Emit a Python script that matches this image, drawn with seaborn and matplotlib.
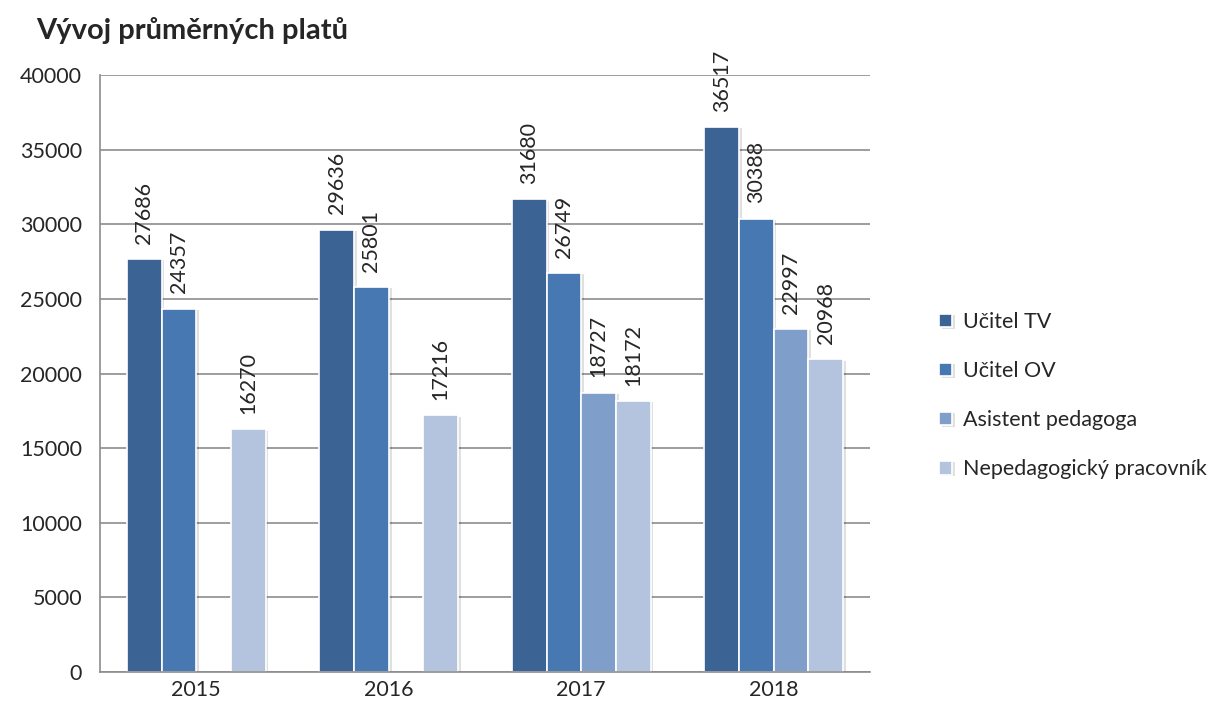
import numpy as np
import pandas as pd
import matplotlib
matplotlib.use("Agg")
import matplotlib.pyplot as plt
import matplotlib.patheffects as pe
import seaborn as sns

# --- Data ---
years = ["2015", "2016", "2017", "2018"]
series = ["Učitel TV", "Učitel OV", "Asistent pedagoga", "Nepedagogický pracovník"]
ucitel_tv = [27686, 29636, 31680, 36517]
ucitel_ov = [24357, 25801, 26749, 30388]
asistent = [np.nan, np.nan, 18727, 22997]
nepedagog = [16270, 17216, 18172, 20968]

colors = ["#3B6494", "#4878B1", "#7F9ECA", "#B4C4DF"]

rows = []
for name, vals in zip(series, [ucitel_tv, ucitel_ov, asistent, nepedagog]):
    for y, v in zip(years, vals):
        rows.append({"Rok": y, "Kategorie": name, "Plat": v})
df = pd.DataFrame(rows).dropna()

sns.set_style("white")
plt.rcParams["font.family"] = ["Lato", "DejaVu Sans"]

fig = plt.figure(figsize=(12.14, 7.15), dpi=100)
ax = fig.add_axes([0.0824, 0.060, 0.6342, 0.835])

sns.barplot(data=df, x="Rok", y="Plat", hue="Kategorie", order=years,
            hue_order=series, palette=colors, width=0.72, saturation=1,
            edgecolor="white", linewidth=1.2, ax=ax)

# light drop shadow like the office chart
for p in ax.patches:
    p.set_path_effects([pe.SimplePatchShadow(offset=(2, -1), alpha=0.12,
                                             shadow_rgbFace="black"), pe.Normal()])

for c in ax.containers:
    ax.bar_label(c, fmt="%.0f", rotation=90, padding=11, fontsize=15.5)

ax.set_ylim(0, 40000)
ax.set_yticks(range(0, 40001, 5000))
ax.set_xlim(-0.5, 3.5)
ax.yaxis.grid(True, color="#8c8c8c", linewidth=1.2)
ax.set_axisbelow(True)
ax.set_xlabel("")
ax.set_ylabel("")
for s in ["top", "right"]:
    ax.spines[s].set_visible(False)
for s in ["left", "bottom"]:
    ax.spines[s].set_color("#8c8c8c")
    ax.spines[s].set_linewidth(1.2)

# x ticks at category boundaries, labels centered
ax.set_xticks([-0.5, 0.5, 1.5, 2.5, 3.5])
ax.set_xticklabels([])
ax.set_xticks(range(4), minor=True)
ax.set_xticklabels(years, minor=True, fontsize=15.5)
ax.tick_params(axis="x", which="major", length=9, color="#8c8c8c", width=1.2)
ax.tick_params(axis="x", which="minor", length=0, pad=6)
ax.tick_params(axis="y", length=9, color="#8c8c8c", width=1.2, labelsize=15.5, pad=4)

ax.legend(loc="center left", bbox_to_anchor=(1.065, 0.463), frameon=False,
          fontsize=15.5, handlelength=0.6, handleheight=0.6,
          labelspacing=1.35, handletextpad=0.5)

fig.text(0.030, 0.957, "Vývoj průměrných platů", fontsize=21,
         fontweight="bold", va="center", ha="left")

fig.savefig("out.png", dpi=100)
